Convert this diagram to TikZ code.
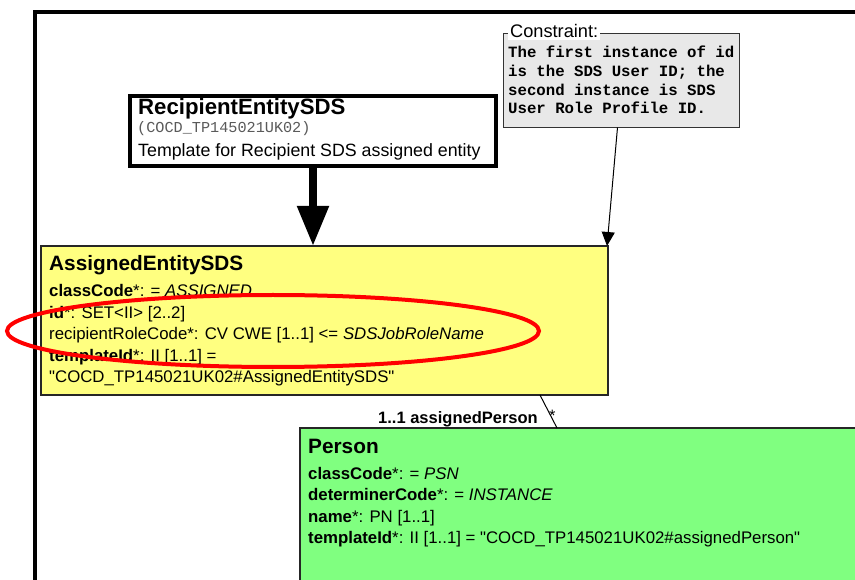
\documentclass[tikz,border=0pt]{standalone}
\usepackage{fontspec}
\setmainfont{Liberation Sans}[Ligatures=TeXOff]
\setmonofont{Liberation Mono}
\usetikzlibrary{arrows.meta}
\definecolor{aeyellow}{RGB}{255,255,128}
\definecolor{pgreen}{RGB}{128,255,128}
\definecolor{cgray}{RGB}{232,232,232}
\definecolor{monogray}{RGB}{90,90,90}
\tikzset{
  box/.style={draw=black!85, line width=1.5pt, anchor=north west, inner sep=0pt, outer sep=0pt},
  txt/.style={anchor=base west, inner sep=0pt, font=\fontsize{16.8}{20}\selectfont},
  ttl/.style={anchor=base west, inner sep=0pt, font=\fontsize{20.8}{24}\selectfont\bfseries},
  cons/.style={anchor=base west, inner sep=0pt, font=\fontsize{15.7}{18}\selectfont\ttfamily\bfseries},
}
\begin{document}
\begin{tikzpicture}[x=1pt,y=-1pt]
\useasboundingbox (0,0) rectangle (855,580);
\clip (0,0) rectangle (855,580);
% outer frame
\draw[line width=4pt] (35,620) -- (35,12) -- (880,12);

% boxes
\node[box, line width=4pt, draw=black, fill=white, minimum width=366pt, minimum height=70pt] (re) at (130,96) {};
\node[box, draw=black!80, line width=1.2pt, fill=cgray, minimum width=236pt, minimum height=94pt] (cons) at (503.5,33.5) {};
\node[box, fill=aeyellow, minimum width=567pt, minimum height=149pt] (ae) at (41,246) {};
\node[box, fill=pgreen, minimum width=600pt, minimum height=220pt] (pn) at (300,428) {};

% RecipientEntitySDS text
\node[anchor=base west, inner sep=0pt, font=\fontsize{22.2}{26}\selectfont\bfseries] (reT) at (138,115) {RecipientEntitySDS};
\node[anchor=base west, inner sep=0pt, font=\fontsize{15.2}{18}\selectfont\ttfamily, text=monogray] (reC) at (137,133) {(COCD\_TP145021UK02)};
\node[anchor=base west, inner sep=0pt, font=\fontsize{17.8}{20}\selectfont] (reD) at (138,157) {Template for Recipient SDS assigned entity};

% Constraint
\node[anchor=base west, fill=white, inner xsep=2pt, inner ysep=2pt, font=\fontsize{18.2}{20}\selectfont] (consL) at (508,38) {Constraint:\hspace{4pt}};
\node[cons] (c1) at (508,58) {The first instance of id};
\node[cons] (c2) at (508,77) {is the SDS User ID; the};
\node[cons] (c3) at (508,95.5) {second instance is SDS};
\node[cons] (c4) at (508,114) {User Role Profile ID.};

% AssignedEntitySDS text
\node[ttl] (aeT) at (49,271) {AssignedEntitySDS};
\node[txt] (ae1) at (49,297) {\textbf{classCode}*: = \textit{ASSIGNED}};
\node[txt] (ae2) at (49,318.5) {\textbf{id}*: SET<II> [2..2]};
\node[txt] (ae3) at (49,340) {recipientRoleCode*: CV CWE [1..1] <= \textit{SDSJobRoleName}};
\node[txt] (ae4) at (49,361.5) {\textbf{templateId}*: II [1..1] =};
\node[txt] (ae5) at (49,383) {"COCD\_TP145021UK02\#AssignedEntitySDS"};

% Person text
\node[ttl] (pnT) at (308,453) {Person};
\node[txt] (pn1) at (308,479) {\textbf{classCode}*: = \textit{PSN}};
\node[txt] (pn2) at (308,500.5) {\textbf{determinerCode}*: = \textit{INSTANCE}};
\node[txt] (pn3) at (308,522) {\textbf{name}*: PN [1..1]};
\node[txt] (pn4) at (308,543.5) {\textbf{templateId}*: II [1..1] = "COCD\_TP145021UK02\#assignedPerson"};

% connectors
\draw[line width=8pt, -{Triangle[width=30pt,length=40pt]}] (re.south) -- (re.south |- ae.north);
\draw[line width=1pt, -{Triangle[width=13pt,length=14pt]}] ([xshift=-4pt]cons.south) -- ([xshift=-1pt]ae.north east);
\draw[line width=1pt] ([xshift=-68pt]ae.south east) -- ([xshift=257pt]pn.north west);
\node[anchor=base east, inner sep=0pt, font=\fontsize{16.5}{20}\selectfont\bfseries] (asL) at (538,423) {1..1 assignedPerson};
\node[anchor=base west, inner sep=0pt, font=\fontsize{16.5}{20}\selectfont] (asS) at (549,421) {*};

% highlight ellipse
\draw[red, line width=4pt] (273,331) ellipse [x radius=266, y radius=36];
\end{tikzpicture}
\end{document}
